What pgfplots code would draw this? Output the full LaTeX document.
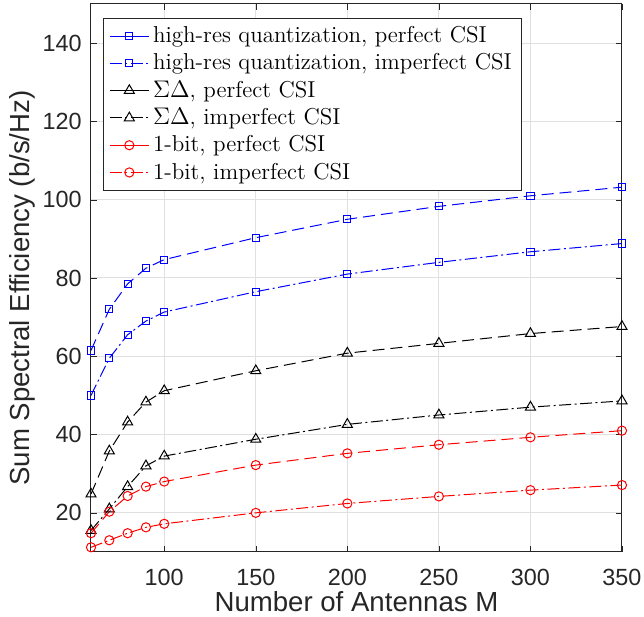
\documentclass[border=0pt]{standalone}
\usepackage{fontspec}
\usepackage{pgfplots}
\pgfplotsset{compat=1.18}
\newfontfamily\arial{Liberation Sans}
\definecolor{axgray}{rgb}{0.15,0.15,0.15}
\definecolor{gridgray}{rgb}{0.88,0.88,0.88}

\pgfplotstableread{
M   hp     hi    sp    si    bp    bi
60  61.5   50.0  24.8  15.5  14.8  11.2
70  72.0   59.5  35.8  21.0  20.3  13.0
80  78.5   65.5  43.2  26.7  24.3  14.8
90  82.5   69.0  48.3  32.0  26.7  16.3
100 84.7   71.3  51.2  34.5  28.0  17.2
150 90.3   76.5  56.3  38.8  32.2  20.0
200 95.0   81.0  60.8  42.6  35.2  22.4
250 98.3   84.0  63.3  45.0  37.4  24.2
300 101.0  86.7  65.8  47.0  39.3  25.8
350 103.2  88.8  67.6  48.6  41.0  27.1
}\data

\begin{document}
\begin{tikzpicture}
\begin{axis}[
    width=265.5pt, height=274pt,
    scale only axis,
    xmin=60, xmax=350, ymin=10, ymax=150,
    xtick={100,150,200,250,300,350},
    ytick={20,40,60,80,100,120,140},
    grid=major,
    major grid style={gridgray, line width=0.5pt},
    axis line style={axgray, line width=0.5pt},
    tick style={axgray},
    tick align=inside,
    major tick length=3pt,
    ticklabel style={font=\arial\fontsize{11.7}{13}\selectfont, text=axgray, inner sep=0pt},
    xticklabel style={anchor=center, yshift=-12.5pt},
    yticklabel style={anchor=east, xshift=-4.5pt},
    /pgf/number format/assume math mode=true,
    xlabel={\arial Number of Antennas M},
    ylabel={\arial Sum Spectral Efficiency (b/s/Hz)},
    label style={font=\arial\fontsize{13.8}{15}\selectfont, text=axgray, inner sep=0pt},
    xlabel style={at={([yshift=-25pt]axis description cs:0.5,0)}, anchor=center},
    ylabel style={at={([xshift=-34.5pt,yshift=-5pt]axis description cs:0,0.5)}, anchor=center},
    legend style={at={(0.0226,0.9745)}, anchor=north west,
        draw=axgray, line width=0.5pt, font=\fontsize{11.5}{13}\selectfont,
        inner xsep=3pt, inner ysep=2pt, row sep=0pt},
    legend cell align=left,
    legend image code/.code={
        \draw[mark repeat=2,mark phase=2]
        plot coordinates {(0cm,0cm) (0.34cm,0cm) (0.68cm,0cm)};},
    every axis plot/.append style={line width=0.5pt},
    perf/.style={dash pattern=on 6pt off 3pt, mark options={solid}, legend image post style={solid}},
    imperf/.style={dash pattern=on 6pt off 1.75pt on 1pt off 1.75pt, mark options={solid}},
]
\addplot[blue, perf, mark=square, mark size=1.8pt] table[x=M,y=hp]{\data};
\addlegendentry{high-res quantization, perfect CSI}
\addplot[blue, imperf, mark=square, mark size=1.8pt] table[x=M,y=hi]{\data};
\addlegendentry{high-res quantization, imperfect CSI}
\addplot[black, perf, mark=triangle, mark size=2.9pt] table[x=M,y=sp]{\data};
\addlegendentry{$\Sigma\Delta$, perfect CSI}
\addplot[black, imperf, mark=triangle, mark size=2.9pt] table[x=M,y=si]{\data};
\addlegendentry{$\Sigma\Delta$, imperfect CSI}
\addplot[red, perf, mark=o, mark size=2.3pt] table[x=M,y=bp]{\data};
\addlegendentry{1-bit, perfect CSI}
\addplot[red, imperf, mark=o, mark size=2.3pt] table[x=M,y=bi]{\data};
\addlegendentry{1-bit, imperfect CSI}
\end{axis}
\path ([yshift=2pt]current axis.north) ([yshift=-32.5pt]current axis.south)
      ([xshift=11pt]current axis.east) ([xshift=-45.5pt]current axis.west);
\end{tikzpicture}
\end{document}
